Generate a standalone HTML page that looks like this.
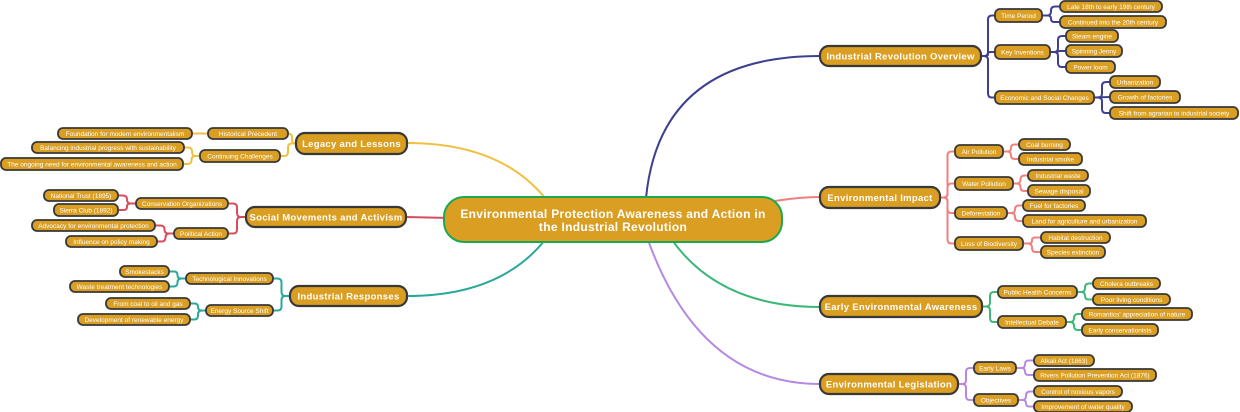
<!DOCTYPE html>
<html><head><meta charset="utf-8"><style>
html,body{margin:0;padding:0;background:#fff;width:1240px;height:412px;overflow:hidden}
svg{display:block}
text{font-family:"Liberation Sans","DejaVu Sans",sans-serif;fill:#fff}
</style></head><body>
<svg id="s" width="1240" height="412" xmlns="http://www.w3.org/2000/svg">
<g id="lines" fill="none" stroke-width="2"></g>
<g id="nodes"></g>
</svg>
<script>
var NS="http://www.w3.org/2000/svg";
var L=document.getElementById('lines'),N=document.getElementById('nodes');
function el(t,a,p){var e=document.createElementNS(NS,t);for(var k in a)e.setAttribute(k,a[k]);p.appendChild(e);return e;}
function path(d,c,w){el('path',{d:d,stroke:c,'stroke-width':w||2,fill:'none'},L);}
function node(x1,y1,x2,y2,txt,fs,bold,rx,sw,stroke,ls){
 el('rect',{x:x1,y:y1,width:x2-x1,height:y2-y1,rx:rx,fill:'#D99E22',stroke:stroke||'#383838','stroke-width':sw},N);
 var t=el('text',{x:(x1+x2)/2,y:(y1+y2)/2+fs*0.36,'font-size':fs,'text-anchor':'middle','font-weight':bold?'bold':'normal','letter-spacing':ls||0},N);
 t.textContent=txt;}
function elbow(x1,y1,x2,y2,c){var mx=(x1+x2)/2,r=Math.min(4,Math.abs(y2-y1)/2),s=y2>y1?1:-1,d=x2>x1?1:-1;
 if(Math.abs(y2-y1)<1){path('M'+x1+' '+y1+'L'+x2+' '+y2,c);return;}
 path('M'+x1+' '+y1+'H'+(mx-d*r)+'Q'+mx+' '+y1+' '+mx+' '+(y1+s*r)+'V'+(y2-s*r)+'Q'+mx+' '+y2+' '+(mx+d*r)+' '+y2+'H'+x2,c);}
path('M646 198Q660 56 820 56','#3f3f8f');
path('M775 201Q800 197 820 197','#f08080');
path('M672 240Q720 307 820 307','#3cb878');
path('M648 240Q700 384 820 384','#b68ae0');
path('M545 198Q500 143 407 143','#f0c040');
path('M450 218L406 217','#d94c5c');
path('M545 240Q500 296 407 296','#2aa89a');
var R=1,Lf=-1;
var data=[
 {m:[820,46,981,66,'Industrial Revolution Overview'],c:'#3f3f8f',s:R,subs:[
  [[995,9,1042,22,'Time Period'],[[1060,1,1162,12,'Late 18th to early 19th century'],[1060,16,1166,28,'Continued into the 20th century']]],
  [[995,45,1050,59,'Key Inventions'],[[1066,30,1118,42,'Steam engine'],[1066,45,1122,57,'Spinning Jenny'],[1066,61,1115,73,'Power loom']]],
  [[995,91,1094,104,'Economic and Social Changes'],[[1110,76,1160,88,'Urbanization'],[1110,91,1180,103,'Growth of factories'],[1110,107,1238,119,'Shift from agrarian to industrial society']]]]},
 {m:[820,187,940,208,'Environmental Impact'],c:'#f08080',s:R,subs:[
  [[955,145,1003,158,'Air Pollution'],[[1019,139,1070,150,'Coal burning'],[1019,153,1082,165,'Industrial smoke']]],
  [[955,177,1013,190,'Water Pollution'],[[1028,170,1088,181,'Industrial waste'],[1028,185,1090,197,'Sewage disposal']]],
  [[955,207,1007,219,'Deforestation'],[[1023,200,1085,211,'Fuel for factories'],[1023,215,1146,227,'Land for agriculture and urbanization']]],
  [[955,237,1023,250,'Loss of Biodiversity'],[[1041,232,1110,243,'Habitat destruction'],[1041,246,1105,258,'Species extinction']]]]},
 {m:[820,296,982,317,'Early Environmental Awareness'],c:'#3cb878',s:R,subs:[
  [[998,286,1077,298,'Public Health Concerns'],[[1093,278,1160,289,'Cholera outbreaks'],[1093,294,1170,305,'Poor living conditions']]],
  [[998,316,1066,328,'Intellectual Debate'],[[1082,308,1192,320,"Romantics' appreciation of nature"],[1082,324,1158,336,'Early conservationists']]]]},
 {m:[820,374,958,394,'Environmental Legislation'],c:'#b68ae0',s:R,subs:[
  [[974,362,1016,374,'Early Laws'],[[1034,355,1094,366,'Alkali Act (1863)'],[1034,369,1156,381,'Rivers Pollution Prevention Act (1876)']]],
  [[974,394,1018,406,'Objectives'],[[1034,386,1122,397,'Control of noxious vapors'],[1034,401,1132,412,'Improvement of water quality']]]]},
 {m:[296,133,407,154,'Legacy and Lessons'],c:'#f0c040',s:Lf,subs:[
  [[208,128,288,139,'Historical Precedent'],[[58,128,192,139,'Foundation for modern environmentalism']]],
  [[200,150,280,162,'Continuing Challenges'],[[32,142,184,153,'Balancing industrial progress with sustainability'],[1,158,183,170,'The ongoing need for environmental awareness and action']]]]},
 {m:[246,207,406,227,'Social Movements and Activism'],c:'#d94c5c',s:Lf,subs:[
  [[136,198,228,209,'Conservation Organizations'],[[44,190,118,201,'National Trust (1895)'],[54,204,118,216,'Sierra Club (1892)']]],
  [[174,228,228,239,'Political Action'],[[32,220,155,231,'Advocacy for environmental protection'],[66,236,157,247,'Influence on policy making']]]]},
 {m:[290,286,407,306,'Industrial Responses'],c:'#2aa89a',s:Lf,subs:[
  [[186,273,273,284,'Technological Innovations'],[[120,266,169,277,'Smokestacks'],[70,281,169,292,'Waste treatment technologies']]],
  [[206,305,273,316,'Energy Source Shift'],[[106,298,190,309,'From coal to oil and gas'],[78,314,190,325,'Development of renewable energy']]]]}
];
data.forEach(function(b){
 var m=b.m,my=(m[1]+m[3])/2,px=b.s>0?m[2]:m[0];
 b.subs.forEach(function(sb){
  var s=sb[0],sy=(s[1]+s[3])/2,sx=b.s>0?s[0]:s[2];
  elbow(px,my,sx,sy,b.c);
  var qx=b.s>0?s[2]:s[0];
  sb[1].forEach(function(l){var ly=(l[1]+l[3])/2,lx=b.s>0?l[0]:l[2];elbow(qx,sy,lx,ly,b.c);
   node(l[0],l[1],l[2],l[3],l[4],6.5,false,5,1.8,null,0);});
  node(s[0],s[1],s[2],s[3],s[4],6.5,false,5,1.8,null,0);
 });
 node(m[0],m[1],m[2],m[3],m[4],9.5,true,9,2.2,null,0.3);
});
el('rect',{x:444,y:197,width:338,height:45,rx:20,fill:'#D99E22',stroke:'#1aa850','stroke-width':2},N);
var t1=el('text',{x:613,y:218,'font-size':12,'text-anchor':'middle','font-weight':'bold','letter-spacing':0.3},N);t1.textContent='Environmental Protection Awareness and Action in';
var t2=el('text',{x:613,y:231,'font-size':12,'text-anchor':'middle','font-weight':'bold','letter-spacing':0.3},N);t2.textContent='the Industrial Revolution';
</script>
</body></html>
